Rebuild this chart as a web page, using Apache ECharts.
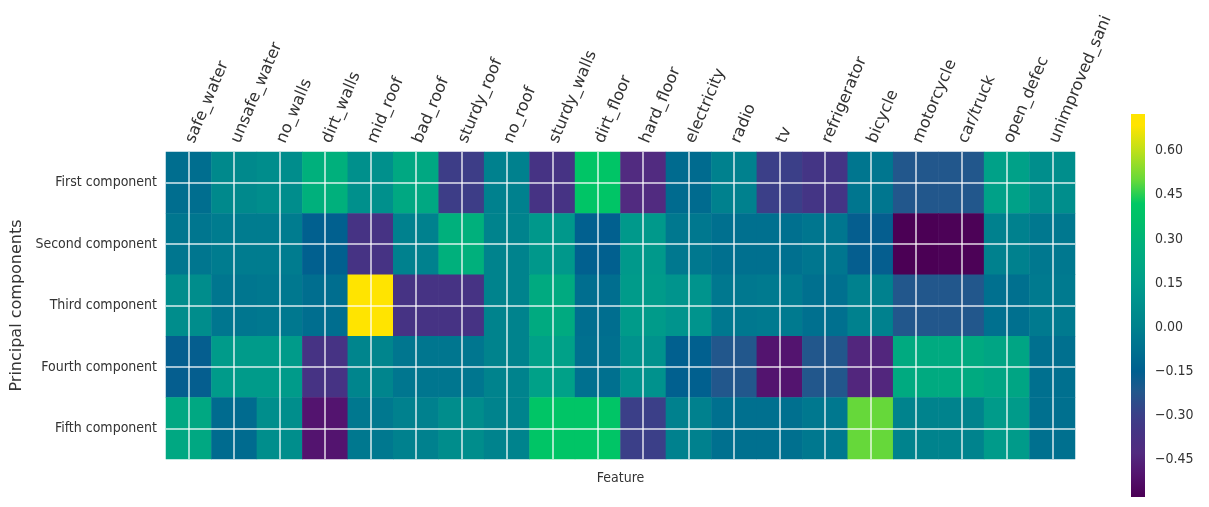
<!DOCTYPE html>
<html>
<head>
<meta charset="utf-8">
<script src="https://cdn.jsdelivr.net/npm/echarts@6/dist/echarts.min.js"></script>
<style>
html,body{margin:0;padding:0;background:#fff;}
#chart{width:1209px;height:507px;}
</style>
</head>
<body>
<div id="chart"></div>
<script>
// ---------- data ----------
const features = ['safe_water','unsafe_water','no_walls','dirt_walls','mid_roof','bad_roof','sturdy_roof','no_roof','sturdy_walls','dirt_floor','hard_floor','electricity','radio','tv','refrigerator','bicycle','motorcycle','car/truck','open_defec','unimproved_sani'];
const components = ['First component','Second component','Third component','Fourth component','Fifth component'];
const firstComponent  = [-0.09, 0.04, 0.06, 0.28, 0.08, 0.22, -0.31, 0.00, -0.36, 0.40, -0.42, -0.10, 0.00, -0.30, -0.35, -0.05, -0.22, -0.22, 0.17, 0.07];
const secondComponent = [-0.05, -0.02, -0.02, -0.15, -0.36, 0.00, 0.28, 0.01, 0.12, -0.15, 0.13, -0.04, -0.08, -0.08, -0.05, -0.16, -0.578, -0.57, 0.00, -0.04];
const thirdComponent  = [0.06, -0.05, -0.04, -0.09, 0.725, -0.36, -0.36, 0.01, 0.24, -0.09, 0.14, 0.10, -0.04, -0.03, -0.08, 0.00, -0.22, -0.22, -0.08, -0.03];
const fourthComponent = [-0.16, 0.14, 0.14, -0.36, 0.02, -0.05, -0.05, 0.01, 0.17, -0.08, 0.09, -0.15, -0.22, -0.50, -0.22, -0.44, 0.24, 0.24, 0.20, -0.08];
const fifthComponent  = [0.22, -0.10, 0.07, -0.50, -0.04, 0.00, 0.06, 0.01, 0.40, 0.40, -0.30, 0.00, -0.08, -0.08, -0.04, 0.50, 0.01, 0.01, 0.14, -0.08];
const colorbarTicks = [-0.45, -0.30, -0.15, 0.00, 0.15, 0.30, 0.45, 0.60];

// ---------- style ----------
const CMAP = [
  [0.000,'#4b0055'],[0.060,'#53146f'],[0.114,'#522a7f'],[0.167,'#463384'],[0.213,'#3b3f88'],
  [0.275,'#22578c'],[0.328,'#005f8f'],[0.382,'#00708f'],[0.421,'#007a8f'],[0.444,'#00828d'],
  [0.482,'#008b8c'],[0.520,'#00948d'],[0.566,'#009f89'],[0.612,'#00a882'],[0.658,'#00b07c'],
  [0.720,'#00bf6a'],[0.766,'#00c864'],[0.827,'#66d93a'],[0.904,'#bde01a'],[0.970,'#ffe400'],[1.000,'#ffe400']
];
const CONDENSED = '"DejaVu Sans Condensed", "DejaVu Sans", sans-serif';
const TEXT_COLOR = '#333333';

function hexToRgb(h){return [parseInt(h.slice(1,3),16),parseInt(h.slice(3,5),16),parseInt(h.slice(5,7),16)];}
function cmapAt(f){
  f = Math.max(0, Math.min(1, f));
  for (let i = 0; i < CMAP.length - 1; i++) {
    const a = CMAP[i], b = CMAP[i+1];
    if (f >= a[0] && f <= b[0]) {
      const t = (f - a[0]) / ((b[0] - a[0]) || 1);
      const ca = hexToRgb(a[1]), cb = hexToRgb(b[1]);
      return 'rgb(' + ca.map((c, k) => Math.round(c + (cb[k] - c) * t)).join(',') + ')';
    }
  }
  return CMAP[CMAP.length-1][1];
}

const rows = [firstComponent, secondComponent, thirdComponent, fourthComponent, fifthComponent];
const heatData = [];
rows.forEach((row, r) => row.forEach((v, c) => heatData.push([c, r, v])));
const allVals = rows.flat();
const vmin = Math.min.apply(null, allVals);
const vmax = Math.max.apply(null, allVals);

const N = 80;
const palette = [];
for (let i = 0; i <= N; i++) palette.push(cmapAt(i / N));
const gradStops = CMAP.map(s => ({offset: 1 - s[0], color: s[1]})).reverse();

const chart = echarts.init(document.getElementById('chart'), null, {renderer: 'canvas'});
const gridLine = {show: true, alignWithLabel: true, lineStyle: {color: 'rgba(255,255,255,0.85)', width: 1.5}};

chart.setOption({
  backgroundColor: '#ffffff',
  animation: false,
  grid: [
    {left: 166, top: 152, width: 909, height: 307},
    {left: 1131, top: 114, width: 14, height: 383}
  ],
  xAxis: [
    {
      type: 'category', gridIndex: 0, data: features, position: 'top', z: 10,
      axisLine: {show: false}, axisTick: {show: false},
      axisLabel: {rotate: -67, interval: 0, margin: 6, fontSize: 16, color: TEXT_COLOR, fontFamily: 'DejaVu Sans', padding: [0, 0, 0, 4]},
      splitLine: gridLine, splitArea: {show: false}
    },
    {
      type: 'category', gridIndex: 0, data: features, position: 'bottom',
      axisLine: {show: false}, axisTick: {show: false}, axisLabel: {show: false}, splitLine: {show: false},
      name: 'Feature', nameLocation: 'middle', nameGap: 12,
      nameTextStyle: {fontSize: 14, color: TEXT_COLOR, fontFamily: CONDENSED}
    },
    {
      type: 'category', gridIndex: 1, data: ['colorbar'], show: false
    }
  ],
  yAxis: [
    {
      type: 'category', gridIndex: 0, data: components, inverse: true, z: 10,
      axisLine: {show: false}, axisTick: {show: false},
      axisLabel: {margin: 9, fontSize: 14, color: TEXT_COLOR, fontFamily: CONDENSED},
      splitLine: gridLine, splitArea: {show: false},
      name: 'Principal components', nameLocation: 'middle', nameGap: 127,
      nameTextStyle: {fontSize: 16, color: TEXT_COLOR, fontFamily: 'DejaVu Sans'}
    },
    {
      type: 'value', gridIndex: 1, min: vmin, max: vmax, position: 'right',
      axisLine: {show: false}, axisTick: {show: false}, splitLine: {show: false},
      axisLabel: {
        customValues: colorbarTicks, margin: 10, fontSize: 14, color: TEXT_COLOR, fontFamily: CONDENSED,
        formatter: v => (v < 0 ? '\u2212' : '') + Math.abs(v).toFixed(2)
      }
    }
  ],
  visualMap: {
    type: 'continuous', show: false, seriesIndex: 0, min: vmin, max: vmax, dimension: 2,
    inRange: {color: palette}
  },
  series: [
    {
      type: 'heatmap', xAxisIndex: 0, yAxisIndex: 0, data: heatData,
      itemStyle: {borderWidth: 0}, emphasis: {disabled: true}
    },
    {
      type: 'custom', xAxisIndex: 2, yAxisIndex: 1,
      encode: {x: 0, y: [1, 2]},
      data: [[0, vmin, vmax]],
      renderItem: function (params, api) {
        const top = api.coord([api.value(0), api.value(2)]);
        const bot = api.coord([api.value(0), api.value(1)]);
        const w = api.size([1, 0])[0];
        return {
          type: 'rect',
          shape: {x: top[0] - w / 2, y: top[1], width: w, height: bot[1] - top[1]},
          style: {fill: new echarts.graphic.LinearGradient(0, 0, 0, 1, gradStops)}
        };
      }
    }
  ]
});
</script>
</body>
</html>
